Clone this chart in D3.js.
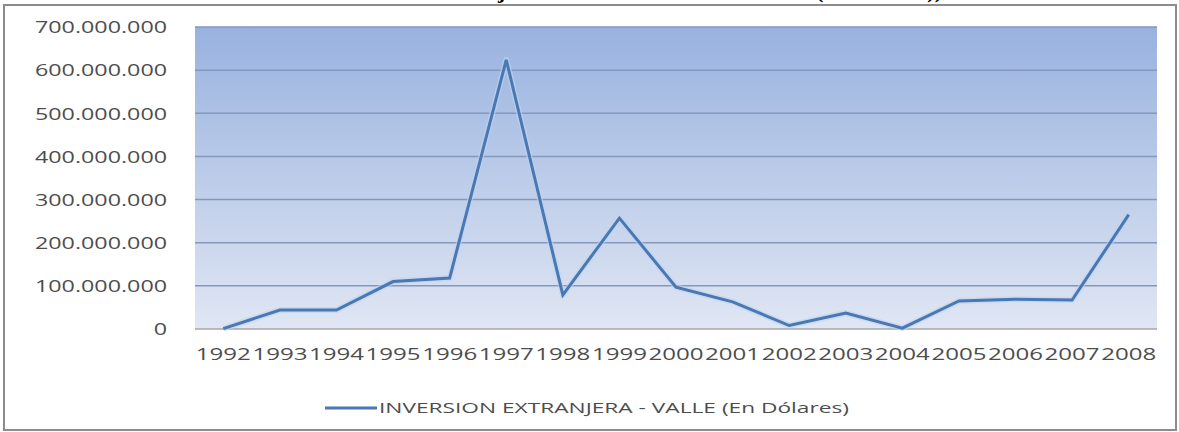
<!DOCTYPE html>
<html>
<head>
<meta charset="utf-8">
<script src="https://cdn.jsdelivr.net/npm/d3@7"></script>
<style>
  body { margin: 0; background: #fff; }
  text { font-family: "Open Sans", sans-serif; fill: #4d4d4d; }
</style>
</head>
<body>
<div id="chart"></div>
<script>
// Data
let years = ['1992', '1993', '1994', '1995', '1996', '1997', '1998', '1999', '2000',
  '2001', '2002', '2003', '2004', '2005', '2006', '2007', '2008'];
let inversion = [1000000, 44000000, 44000000, 110000000, 118000000, 624000000, 79000000,
  257000000, 97000000, 63000000, 8000000, 37000000, 2000000, 65000000, 69000000, 67000000, 265000000];
let yTicks = [0, 100000000, 200000000, 300000000, 400000000, 500000000, 600000000, 700000000];
let seriesName = 'INVERSION EXTRANJERA - VALLE (En Dólares)';
let titleText = 'Inversión Extranjera Directa en el Valle del Cauca (En Dólares))';

// Layout
let width = 1179;
let height = 432;
let plot = { left: 195, right: 1157, top: 27, bottom: 329 };

let svg = d3.select('#chart').append('svg').attr('width', width).attr('height', height);

// gradient for the plot area
let defs = svg.append('defs');
let grad = defs.append('linearGradient').attr('id', 'bg').attr('x1', 0).attr('y1', 0).attr('x2', 0).attr('y2', 1);
grad.append('stop').attr('offset', '0%').attr('stop-color', '#98b2df');
grad.append('stop').attr('offset', '100%').attr('stop-color', '#e0e6f3');

// title, mostly cut off at the top of the picture (as in the original)
svg.append('text')
  .attr('x', 942)
  .attr('y', -2)
  .attr('text-anchor', 'end')
  .style('font-family', '"Liberation Serif", serif')
  .style('font-weight', 'bold')
  .style('font-size', '22px')
  .style('fill', '#000')
  .text(titleText);

// frame
svg.append('rect')
  .attr('x', 4).attr('y', 5)
  .attr('width', 1172).attr('height', 425)
  .attr('fill', 'none')
  .attr('stroke', '#8c8c8c')
  .attr('stroke-width', 2);

let x = d3.scaleBand().domain(years).range([plot.left, plot.right]);
let y = d3.scaleLinear().domain([0, 700000000]).range([plot.bottom, plot.top]);

svg.append('rect')
  .attr('x', plot.left).attr('y', plot.top)
  .attr('width', plot.right - plot.left).attr('height', plot.bottom - plot.top)
  .attr('fill', 'url(#bg)');

// gridlines
svg.append('g')
  .selectAll('line')
  .data(yTicks.filter((d) => d > 0))
  .join('line')
  .attr('x1', plot.left).attr('x2', plot.right)
  .attr('y1', (d) => y(d)).attr('y2', (d) => y(d))
  .attr('stroke', '#8497bd')
  .attr('stroke-width', 1.5);

svg.append('line')
  .attr('x1', plot.left).attr('x2', plot.right)
  .attr('y1', y(0)).attr('y2', y(0))
  .attr('stroke', '#a6a6a6')
  .attr('stroke-width', 1.5);

// y axis labels
let fmt = (d) => d3.format(',')(d).replace(/,/g, '.');
let yAxis = svg.append('g')
  .attr('transform', 'translate(167,0)')
  .call(d3.axisLeft(y).tickValues(yTicks).tickFormat(fmt).tickSize(0).tickPadding(0));
yAxis.select('.domain').remove();
yAxis.selectAll('text').style('font-size', '16px').attr('dy', '0.36em');

// x axis labels
let xAxis = svg.append('g')
  .attr('transform', 'translate(0,' + plot.bottom + ')')
  .call(d3.axisBottom(x).tickSize(0).tickPadding(20));
xAxis.select('.domain').remove();
xAxis.selectAll('text').style('font-size', '16px');

// stretch labels sideways like the original
let ref = yAxis.selectAll('text').filter((d) => d === 700000000).node().getComputedTextLength();
let k = 132 / ref;
yAxis.selectAll('text').each(function () {
  let w = this.getComputedTextLength();
  d3.select(this).attr('textLength', w * k).attr('lengthAdjust', 'spacingAndGlyphs');
});
xAxis.selectAll('text').attr('textLength', 55).attr('lengthAdjust', 'spacingAndGlyphs');

// series line
let line = d3.line()
  .x((d, i) => x(years[i]) + x.bandwidth() / 2)
  .y((d) => y(d));

svg.append('path')
  .datum(inversion)
  .attr('d', line)
  .attr('fill', 'none')
  .attr('stroke', '#bcd3f2')
  .attr('stroke-width', 6)
  .attr('stroke-linejoin', 'round')
  .attr('opacity', 0.6);

svg.append('path')
  .datum(inversion)
  .attr('d', line)
  .attr('fill', 'none')
  .attr('stroke', '#4a78b2')
  .attr('stroke-width', 3)
  .attr('stroke-linejoin', 'miter');

// legend
svg.append('line')
  .attr('x1', 325).attr('x2', 377)
  .attr('y1', 408).attr('y2', 408)
  .attr('stroke', '#4a78b2')
  .attr('stroke-width', 3);

svg.append('text')
  .attr('x', 379)
  .attr('y', 408)
  .attr('dy', '0.36em')
  .style('font-size', '15px')
  .attr('textLength', 470)
  .attr('lengthAdjust', 'spacingAndGlyphs')
  .text(seriesName);
</script>
</body>
</html>
